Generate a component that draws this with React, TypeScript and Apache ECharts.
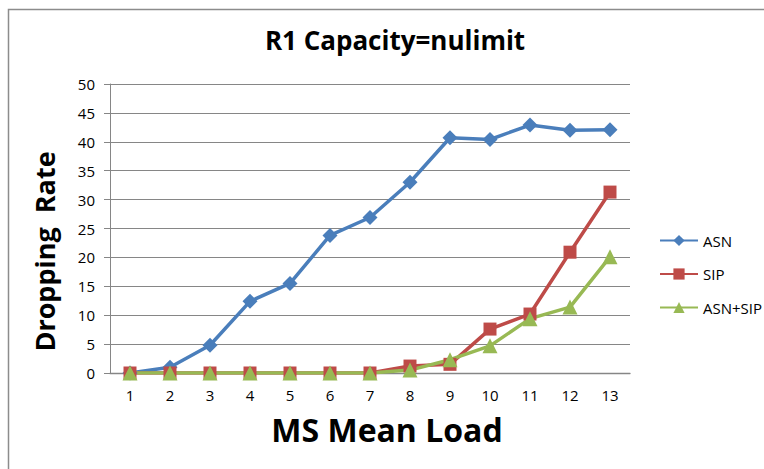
import React, { useEffect, useRef } from "react";
import * as echarts from "echarts";

const categories = ["1", "2", "3", "4", "5", "6", "7", "8", "9", "10", "11", "12", "13"];
const asn = [0, 1, 4.8, 12.4, 15.5, 23.8, 26.9, 33, 40.7, 40.4, 42.9, 42, 42.1];
const sip = [0, 0, 0, 0, 0, 0, 0, 1.2, 1.5, 7.6, 10.2, 20.9, 31.3];
const asnSip = [0, 0, 0, 0, 0, 0, 0, 0.5, 2.3, 4.7, 9.4, 11.4, 20.1];
const seriesNames = ["ASN", "SIP", "ASN+SIP"];

const FONT = "'Open Sans', 'Noto Sans', sans-serif";

export default function App() {
  const ref = useRef<HTMLDivElement>(null);
  useEffect(() => {
    if (!ref.current) return;
    const chart = echarts.init(ref.current, undefined, { renderer: "svg" });
    chart.setOption({
      animation: false,
      backgroundColor: "#ffffff",
      title: {
        text: "R1 Capacity=nulimit",
        left: 390,
        top: 22,
        textAlign: "center",
        textStyle: { fontFamily: FONT, fontSize: 26, fontWeight: "bold", color: "#000" },
      },
      graphic: [
        {
          type: "rect",
          shape: { x: 8.5, y: 9.5, width: 900, height: 600 },
          style: { fill: "none", stroke: "#8c8c8c", lineWidth: 1.5 },
          silent: true,
        },
      ],
      legend: {
        orient: "vertical",
        left: 654,
        top: 228,
        itemWidth: 38,
        itemHeight: 14,
        itemGap: 18.5,
        textStyle: { fontFamily: FONT, fontSize: 15, color: "#000" },
        data: seriesNames,
      },
      grid: { left: 110, right: 134, top: 84, bottom: 96, containLabel: false },
      xAxis: {
        type: "category",
        data: categories,
        boundaryGap: true,
        name: "MS Mean Load",
        nameLocation: "middle",
        nameGap: 40,
        nameTextStyle: {
          fontFamily: FONT,
          fontSize: 32,
          fontWeight: "bold",
          color: "#000",
          padding: [0, 0, 0, 34],
        },
        axisLine: { lineStyle: { color: "#868686", width: 1.3 } },
        axisTick: { show: false },
        axisLabel: { fontFamily: FONT, fontSize: 15, color: "#000", margin: 14 },
      },
      yAxis: {
        type: "value",
        min: 0,
        max: 50,
        interval: 5,
        name: "Dropping  Rate",
        nameLocation: "middle",
        nameGap: 52,
        nameTextStyle: {
          fontFamily: FONT,
          fontSize: 27,
          fontWeight: "bold",
          color: "#000",
          padding: [0, 46, 0, 0],
        },
        axisLine: { show: true, lineStyle: { color: "#868686", width: 1 } },
        axisTick: { show: true, length: 6, lineStyle: { color: "#868686" } },
        axisLabel: { fontFamily: FONT, fontSize: 15, color: "#000", margin: 15 },
        splitLine: { lineStyle: { color: "#868686", width: 1.2 } },
      },
      series: [
        {
          name: "ASN",
          type: "line",
          data: asn,
          symbol: "diamond",
          symbolSize: 15,
          lineStyle: { color: "#4A7EBB", width: 3.5 },
          itemStyle: { color: "#4A7EBB" },
        },
        {
          name: "SIP",
          type: "line",
          data: sip,
          symbol: "rect",
          symbolSize: 13,
          lineStyle: { color: "#BE4B48", width: 3.5 },
          itemStyle: { color: "#BE4B48" },
        },
        {
          name: "ASN+SIP",
          type: "line",
          data: asnSip,
          symbol: "triangle",
          symbolSize: 15,
          lineStyle: { color: "#98B954", width: 3.5 },
          itemStyle: { color: "#98B954" },
        },
      ],
    });
    return () => chart.dispose();
  }, []);
  return (
    <div
      ref={ref}
      style={{ position: "absolute", left: 0, top: 0, width: 764, height: 469, background: "#fff" }}
    />
  );
}
